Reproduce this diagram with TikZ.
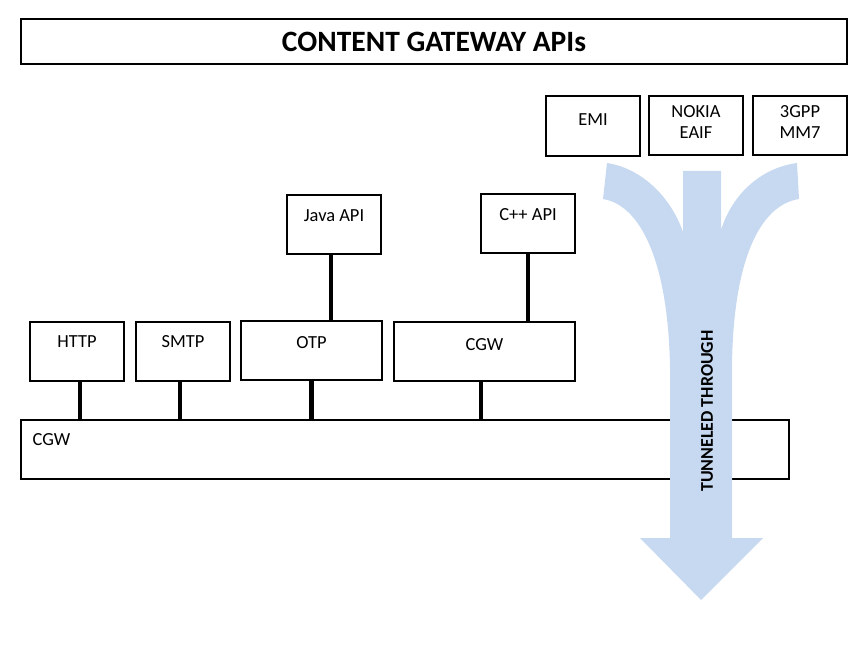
\documentclass[tikz,border=0pt]{standalone}
\usepackage{fontspec}
\setmainfont{Carlito}
\definecolor{tunnelblue}{HTML}{C6D9F0}
\tikzset{
    apibox/.style={draw, line width=0.8pt, minimum width=1.88cm, minimum height=1.18cm, inner sep=0pt},
    boxtext/.style={font=\fontsize{10.5}{12.2}\selectfont, align=center, inner sep=0pt},
    link/.style={line width=2.8pt},
}
\begin{document}
\begin{tikzpicture}[x=0.02cm, y=-0.02cm]
    \useasboundingbox (0, 0) rectangle (861, 668);

    % Title
    \node[draw, line width=0.8pt, minimum width=16.52cm, minimum height=0.9cm,
          font=\fontsize{16.8}{19}\selectfont\bfseries] (title) at (434, 41.5) {CONTENT GATEWAY APIs};

    % Tunnelled protocols (top right)
    \node[apibox, minimum height=1.2cm, label={[boxtext, anchor=center, yshift=-0.48cm]north:EMI}] (emi) at (593, 126) {};
    \node[apibox, label={[boxtext, anchor=center, yshift=-0.53cm]north:NOKIA\\EAIF}] (nokia) at (696, 125.5) {};
    \node[apibox, label={[boxtext, anchor=center, yshift=-0.53cm]north:3GPP\\MM7}] (mm7) at (800, 125.5) {};

    % Language APIs
    \node[apibox, label={[boxtext, anchor=center, yshift=-0.42cm]north:Java API}] (java) at (334, 224.5) {};
    \node[apibox, label={[boxtext, anchor=center, yshift=-0.42cm]north:C++ API}] (cpp) at (528, 223.5) {};

    % Protocol layer
    \node[apibox, label={[boxtext, anchor=center, yshift=-0.4cm]north:HTTP}] (http) at (77, 351.5) {};
    \node[apibox, label={[boxtext, anchor=center, yshift=-0.4cm]north:SMTP}] (smtp) at (183, 351.5) {};
    \node[apibox, minimum width=2.82cm, label={[boxtext, anchor=center, yshift=-0.44cm]north:OTP}] (otp) at (311.5, 350.5) {};
    \node[apibox, minimum width=3.62cm, label={[boxtext, anchor=center, yshift=-0.46cm]north:CGW}] (cgw) at (484.5, 351.5) {};

    % Gateway bar
    \node[apibox, minimum width=15.36cm, label={[boxtext, anchor=west, xshift=0.24cm, yshift=-0.4cm]north west:CGW}] (cgwbar) at (405, 449.5) {};

    % Connectors (slightly off centre, as in the original)
    \draw[link] ([xshift=-0.06cm]java.south) -- ([xshift=-0.06cm]java.south |- otp.north);
    \draw[link] (cpp.south) -- (cpp.south |- cgw.north);
    \foreach \blk/\dx in {http/0.06, smtp/-0.06, otp/0, cgw/-0.07} {
        \draw[link] ([xshift=\dx cm]\blk.south) -- ([xshift=\dx cm]\blk.south |- cgwbar.north);
    }

    % Tunnel arrow (drawn over the bar)
    \fill[tunnelblue] (607, 163) .. controls (640, 168) and (670, 195) .. (683, 232)
        -- (683, 171) -- (721, 171) -- (721, 230)
        .. controls (732, 195) and (760, 168) .. (797, 163)
        -- (799, 199) .. controls (760, 205) and (733, 260) .. (732, 367)
        -- (732, 538) -- (763, 538) -- (701, 600) -- (640, 538) -- (670, 538)
        -- (670, 367) .. controls (668, 260) and (640, 205) .. (603, 199) -- cycle;
    \node[rotate=90, font=\fontsize{10.2}{12}\selectfont\bfseries, inner sep=0pt] (tunnel) at (707, 411) {TUNNELED THROUGH};
\end{tikzpicture}
\end{document}
